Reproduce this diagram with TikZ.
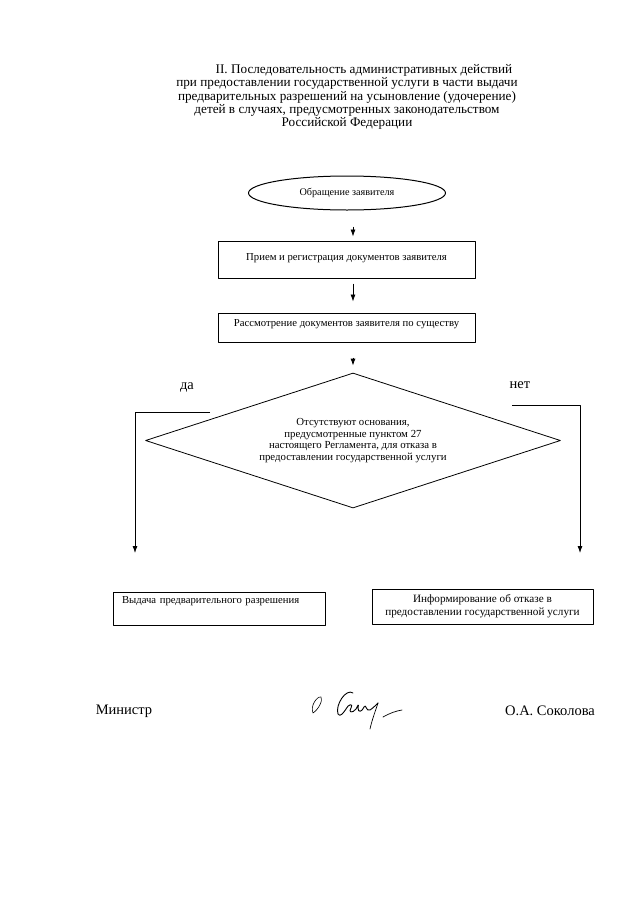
\documentclass[tikz,border=0pt]{standalone}
\usepackage{fontspec}
\setmainfont{Liberation Serif}
\usepackage{tikz}
\usepgflibrary{shapes}
\usetikzlibrary{arrows.meta}

\begin{document}
\begin{tikzpicture}[x=1pt,y=-1pt,join=round,>={Latex[length=7pt,width=5pt]},line width=.8pt,
        stepbox/.style={draw,rectangle,line width=1pt,minimum width=257pt,inner sep=2pt,font=\fontsize{10.7}{13}\selectfont},
        endbox/.style={draw,rectangle,line width=1pt,inner sep=2pt,font=\fontsize{10.7}{13}\selectfont}] % Flow of actions
        \useasboundingbox (0,0) rectangle (640,905);
        \node[align=center,font=\fontsize{13.2}{13.3}\selectfont] (title) at (347,97)
                {\hspace*{34pt}II. Последовательность административных действий\\
                 при предоставлении государственной услуги в части выдачи\\
                 предварительных разрешений на усыновление (удочерение)\\
                 детей в случаях, предусмотренных законодательством\\
                 Российской Федерации};
        \node[draw,ellipse,line width=1pt,minimum width=197pt,minimum height=34pt,inner sep=0pt,
              font=\fontsize{10.2}{13}\selectfont] (appeal) at (347,193) {Обращение заявителя};
        \node[stepbox,minimum height=37pt,text depth=5pt] (reception) at (346.5,259.5)
                {Прием и регистрация документов заявителя};
        \node[stepbox,minimum height=29pt,text depth=9pt] (review) at (346.5,327.5)
                {Рассмотрение документов заявителя по существу};
        \node[draw,diamond,aspect=3,minimum width=415pt,minimum height=135pt,inner sep=0pt,
              align=center,font=\fontsize{10.8}{11.8}\selectfont] (check) at (353,440.5)
                {Отсутствуют основания,\\
                 предусмотренные пунктом 27\\
                 настоящего Регламента, для отказа в\\
                 предоставлении государственной услуги};
        \node[endbox,minimum width=212pt,minimum height=33pt,text width=194pt,align=left] (grant) at (219,608.5)
                {Выдача предварительного разрешения\\[1pt]\strut};
        \node[endbox,minimum width=221pt,minimum height=35pt,align=center,font=\fontsize{11.2}{13}\selectfont] (refusal) at (482.5,606.5)
                {Информирование об отказе в\\
                 предоставлении государственной услуги};
        \node[font=\fontsize{14.5}{16}\selectfont] (yes) at (187,387) {да};
        \node[font=\fontsize{14.5}{16}\selectfont] (no) at (520,385) {нет};
        \coordinate (yesfrom) at (210,412);
        \coordinate (yesto) at (135,553);
        \coordinate (nofrom) at (512,405);
        \coordinate (noto) at (580,553);
        \draw[->,shorten <=16pt,shorten >=4pt] (check.north |- appeal.south) -- (check.north |- reception.north);
        \draw[->,shorten <=5pt,shorten >=11pt] (check.north |- reception.south) -- (check.north |- review.north);
        \draw[->,shorten <=15pt,shorten >=7pt] (check.north |- review.south) -- (check.north);
        \draw[->] (yesfrom) -| (yesto);
        \draw[->] (nofrom) -| (noto);
        \node[font=\fontsize{14.5}{16}\selectfont] (minister) at (124,711) {Министр};
        \node[font=\fontsize{14.5}{16}\selectfont] (sokolova) at (550,711) {О.А. Соколова};
        % signature
        \draw[line width=.6pt,line cap=round]
                (313,713) .. controls (310,706) and (317,696) .. (321,697)
                .. controls (323,700) and (319,709) .. (313,713);
        \draw[line width=.9pt,line cap=round]
                (353,693) .. controls (346,688) and (335,705) .. (338,714)
                .. controls (340,718) and (344,712) .. (346,709)
                .. controls (348,704) and (354,703) .. (351,708)
                .. controls (348,712) and (352,714) .. (356,709)
                .. controls (358,705) and (359,703) .. (358,708)
                .. controls (358,713) and (362,712) .. (364,707)
                .. controls (366,703) and (366,712) .. (370,710)
                .. controls (373,708) and (376,705) .. (378,703);
        \draw[line width=.7pt,line cap=round]
                (378,703) .. controls (375,712) and (372,720) .. (370,729);
        \draw[line width=.7pt,line cap=round]
                (383,717) .. controls (390,713) and (396,711) .. (402,710);
\end{tikzpicture}
\end{document}
